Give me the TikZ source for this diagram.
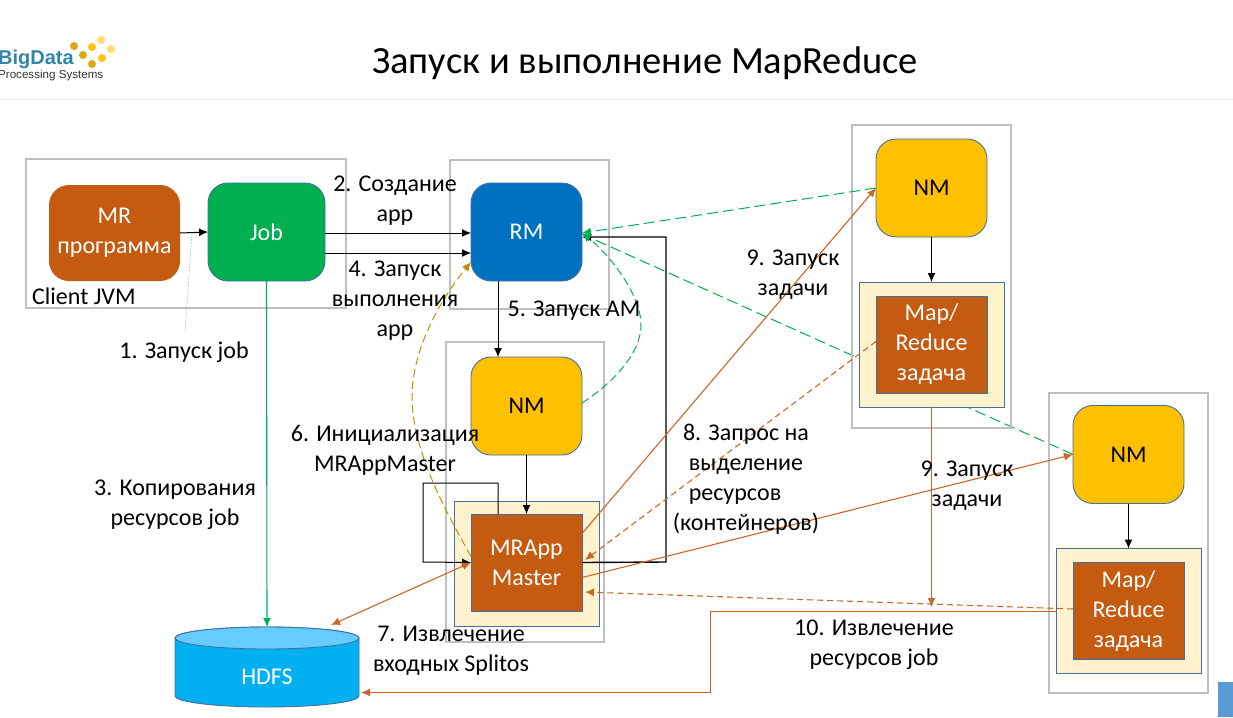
\documentclass[tikz,border=0pt]{standalone}
\usepackage{fontspec}
\setmainfont{Carlito}
\usetikzlibrary{arrows.meta,calc,backgrounds}
\definecolor{orng}{HTML}{C55A11}
\definecolor{ornl}{HTML}{C9672A}
\definecolor{grn}{HTML}{00B050}
\definecolor{blu}{HTML}{0070C0}
\definecolor{yel}{HTML}{FFC000}
\definecolor{crm}{HTML}{FFF2CC}
\definecolor{edg}{HTML}{41719C}
\definecolor{frm}{HTML}{BFBFBF}
\definecolor{gold}{HTML}{BF9000}
\definecolor{lt}{HTML}{66CCFF}
\definecolor{sky}{HTML}{00B0F0}
\definecolor{dota}{HTML}{DDA50F}
\definecolor{dotb}{HTML}{FFC20E}
\definecolor{dotc}{HTML}{FFDB70}
\definecolor{logob}{HTML}{2F86A8}
\definecolor{corner}{HTML}{5B9BD5}
\tikzset{
 box/.style={inner sep=0pt,outer sep=0pt,align=center,font=\fontsize{24}{30}\selectfont},
 frame/.style={box,draw=frm,line width=1.2pt},
 rbox/.style={box,rounded corners=20pt,draw=edg,line width=.9pt,text=white},
 nmbox/.style={rbox,fill=yel,text=black},
 cream/.style={box,fill=crm,draw=edg,line width=1pt},
 task/.style={box,fill=orng,draw=edg,line width=1pt,text=white},
 lab/.style={inner sep=0pt,align=center,font=\fontsize{24}{30}\selectfont,text=black},
 arr/.style={-{Latex[length=9pt,width=8pt]},line width=1pt},
 blk/.style={arr,draw=black},
 orn/.style={arr,draw=ornl,line width=1.1pt},
 ornd/.style={orn,dash pattern=on 6pt off 4pt},
 grnd/.style={arr,draw=grn,dash pattern=on 11pt off 5pt},
}
\begin{document}
\begin{tikzpicture}[x=1pt,y=-1pt]
\useasboundingbox (0,0) rectangle (1233,717);
% header
\coordinate (sepL) at (0,99); \coordinate (sepR) at (1233,99);
\draw[color=black!8,line width=1pt] (sepL) -- (sepR);
\node[lab,font=\fontsize{38.5}{40}\selectfont] (title) at (645,63) {Запуск и выполнение MapReduce};
\node[inner sep=0pt,anchor=west,font=\fontsize{20}{20}\selectfont\bfseries\fontspec{Liberation Sans},text=logob] (logo1) at (-2,59) {BigData};
\node[inner sep=0pt,anchor=west,font=\fontsize{11.6}{14}\selectfont\fontspec{Liberation Sans},text=black!80] (logo2) at (-2,76) {Processing Systems};
\foreach \x/\y/\c in {74/46/dota,92/47/dotb,101/40/dotc,111/49/dotc,83/55/dota,102/58/dotb,92/64/dota}
  \fill[color=\c] (\x,\y) circle (4pt);
% frames
\node[frame,minimum width=320pt,minimum height=149pt] (fclient) at (186,233.5) {};
\node[frame,minimum width=159pt,minimum height=149pt] (frm) at (529.5,234.5) {};
\node[frame,minimum width=158pt,minimum height=300pt] (fam) at (525,492) {};
\node[frame,minimum width=159pt,minimum height=303pt] (fn1) at (931.5,276.5) {};
\node[frame,minimum width=159pt,minimum height=300pt] (fn2) at (1128.5,543) {};
% boxes
\node[rbox,fill=orng,draw=none,minimum width=131pt,minimum height=96pt] (mr) at (114.5,233) {\raisebox{-2pt}{\parbox{131pt}{\centering MR\\программа}}};
\node[rbox,fill=grn,minimum width=117pt,minimum height=98pt] (job) at (266.5,232) {Job};
\node[rbox,fill=blu,minimum width=111pt,minimum height=98pt] (rm) at (526.5,232) {RM};
\node[nmbox,minimum width=111pt,minimum height=98pt] (nm0) at (526.5,406) {NM};
\node[cream,minimum width=145pt,minimum height=125pt] (c0) at (526.5,563.5) {};
\node[task,minimum width=111pt,minimum height=97pt] (am) at (526.5,562.5) {\raisebox{-2pt}{\parbox{111pt}{\centering MRApp\\Master}}};
\node[nmbox,minimum width=111pt,minimum height=98pt] (nm1) at (931.5,188) {NM};
\node[cream,minimum width=145pt,minimum height=125pt] (c1) at (931.5,344.5) {};
\node[task,minimum width=111pt,minimum height=97pt] (t1) at (931.5,344.5) {\raisebox{-1pt}{\parbox{111pt}{\centering Map/\\Reduce\\задача}}};
\node[nmbox,minimum width=111pt,minimum height=98pt] (nm2) at (1128.5,454.5) {NM};
\node[cream,minimum width=145pt,minimum height=125pt] (c2) at (1128.5,611) {};
\node[task,minimum width=111pt,minimum height=97pt] (t2) at (1128.5,611) {\raisebox{-1pt}{\parbox{111pt}{\centering Map/\\Reduce\\задача}}};
% HDFS
\path[fill=sky,draw=edg,line width=.9pt] (175,638) -- (175,696) arc[start angle=180,end angle=360,x radius=92pt,y radius=11pt] -- (359,638) arc[start angle=0,end angle=180,x radius=92pt,y radius=11pt] -- cycle;
\draw[fill=lt,draw=edg,line width=.9pt] (267,638) ellipse[x radius=92pt,y radius=11pt];
\node[box,text=white,minimum width=184pt,minimum height=50pt] (hdfs) at (267,677) {HDFS};
\coordinate (hdfsTop) at (267,627);
\coordinate (hdfsRim) at (331,625);
\coordinate (hdfsSide) at (361,692.5);
\node[box,fill=corner,minimum width=15pt,minimum height=35pt] (cornerbox) at (1225.5,699.5) {};
% back-layer connectors
\begin{scope}[on background layer]
\draw[grnd] (nm2.west) -- ([yshift=-2pt]rm.east);
\end{scope}
% black connectors
\draw[blk] (mr.east) -- (job.west);
\draw[blk] ([yshift=-1pt]job.east) -- ([yshift=-1pt]rm.west);
\draw[blk] ([yshift=-21pt]job.east) -- ([yshift=-21pt]rm.west);
\draw[blk] (rm.south -| 498,0) -- (nm0.north -| 498,0);
\draw[blk] (nm0.south) -- (am.north);
\draw[blk] (nm1.south) -- (t1.north |- c1.north);
\draw[blk] (nm2.south) -- (c2.north);
\coordinate (loop1) at (498,483); \coordinate (loop2) at (423,483); \coordinate (loop3) at (423,562);
\draw[blk] (am.north -| loop1) -- (loop1) -- (loop2) -- (loop3) -- (am.west);
\coordinate (ret1) at (666,562); \coordinate (ret2) at (666,237);
\draw[blk,line width=1.4pt] (am.east) -- (ret1) -- (ret2) -- ([yshift=-5pt]rm.east);
\coordinate (dot1) at (185,332);
\draw[color=gray,line width=.5pt,densely dotted] (192,233) -- (dot1);
% green
\draw[-{Latex[length=9pt,width=8pt]},draw=grn,line width=1.1pt] (job.south) -- (hdfsTop);
\draw[grnd] (nm1.west) -- ([yshift=-1pt]rm.east);
\coordinate (cvm) at (641,325);
\draw[grnd,dash pattern=on 8pt off 4pt] ([yshift=3pt]nm0.east) .. controls (610,385) and (641,355) .. (cvm) .. controls (641,295) and (610,255) .. ([yshift=-1pt]rm.east);
% gold
\coordinate (gdm) at (412,397);
\draw[arr,draw=gold,dash pattern=on 8pt off 4pt] ([yshift=6pt]am.west) .. controls (445,510) and (412,450) .. (gdm) .. controls (412,350) and (440,300) .. ([yshift=-30pt]rm.west);
% orange
\draw[orn] ([yshift=29pt]am.east) -- (nm1.west);
\draw[orn] ([yshift=-15pt]am.east) -- (nm2.west);
\draw[orn,{Latex[length=9pt,width=8pt]}-{Latex[length=9pt,width=8pt]}] (am.west) -- (hdfsRim);
\coordinate (amR1) at (585,560); \coordinate (amR2) at (585,592);
\draw[ornd] ([yshift=3pt]t1.west) -- (amR1);
\draw[ornd] ([yshift=2pt]t2.west) -- (amR2);
\coordinate (jn) at (931.5,607);
\draw[orn] (c1.south) -- (jn);
\coordinate (el1) at (710.5,611.5); \coordinate (el2) at (710.5,692.5);
\draw[orn] ([yshift=-.5pt]c2.west) -- (el1) -- (el2) -- (hdfsSide);
% labels
\node[lab] (l1) at (184,352) {1. Запуск job};
\node[lab] (l2) at (395,201) {2. Создание\\app};
\node[lab] (l3) at (175,505) {3. Копирования\\ресурсов job};
\node[lab] (l4) at (395,301) {4. Запуск\\выполнения\\app};
\node[lab] (l5) at (574,311) {5. Запуск АМ};
\node[lab] (l6) at (385,450) {6. Инициализация\\MRAppMaster};
\node[lab] (l7) at (451,651) {7. Извлечение\\входных Splitos};
\node[lab] (l8) at (746,479) {8. Запрос на\\выделение\\ресурсов\hspace{22pt}\mbox{}\\(контейнеров)};
\node[lab] (l9a) at (793,275) {9. Запуск\\задачи};
\node[lab] (l9b) at (967,486) {9. Запуск\\задачи};
\node[lab] (l10) at (874,645) {10. Извлечение\\ресурсов job};
\node[lab,anchor=west] (lc) at (32,296) {Client JVM};
\end{tikzpicture}
\end{document}
